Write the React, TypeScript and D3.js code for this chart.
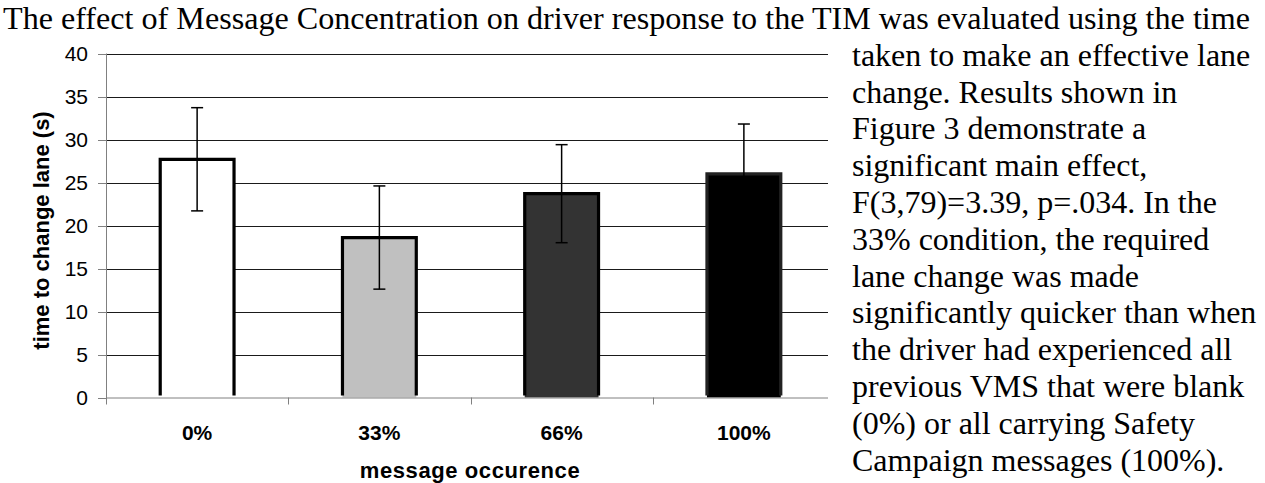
import { useEffect, useRef } from 'react'
import * as d3 from 'd3'

const W = 1265
const H = 483

// chart data
const categories = ['0%', '33%', '66%', '100%']
const means = [27.7, 18.6, 23.7, 26.0]
const errors = [6.0, 6.0, 5.7, 5.8]
const fills = ['#ffffff', '#c0c0c0', '#333333', '#000000']
const yTicks = [0, 5, 10, 15, 20, 25, 30, 35, 40]

// surrounding document text
const titleLine = 'The effect of Message Concentration on driver response to the TIM was evaluated using the time'
const paraLines = [
  'taken to make an effective lane',
  'change. Results shown in',
  'Figure 3 demonstrate a',
  'significant main effect,',
  'F(3,79)=3.39, p=.034. In the',
  '33% condition, the required',
  'lane change was made',
  'significantly quicker than when',
  'the driver had experienced all',
  'previous VMS that were blank',
  '(0%) or all carrying Safety',
  'Campaign messages (100%).',
]

const X0 = 106
const X1 = 835
const Y0 = 397.5
const Y1 = 53.5
const LINE_H = 36.8
const SERIF = '"Liberation Serif", "Times New Roman", serif'
const SANS = '"Liberation Sans", Arial, sans-serif'

export default function App() {
  const svgRef = useRef<SVGSVGElement>(null)

  useEffect(() => {
    if (!svgRef.current) return
    const svg = d3.select(svgRef.current)
    svg.selectAll('*').remove()

    const x = d3.scaleBand<string>().domain(categories).range([X0, X1]).padding(0)
    const y = d3.scaleLinear().domain([0, 40]).range([Y0, Y1])
    const barW = x.bandwidth() * 0.405

    // ── gridlines ─────────────────────────────────────────
    svg.append('g')
      .selectAll('line')
      .data(yTicks.filter((t) => t > 0))
      .join('line')
      .attr('x1', X0).attr('x2', X1)
      .attr('y1', (d) => Math.round(y(d)) + 0.5)
      .attr('y2', (d) => Math.round(y(d)) + 0.5)
      .attr('stroke', '#1a1a1a')
      .attr('stroke-width', 1)

    // ── y axis ────────────────────────────────────────────
    const yAxis = svg.append('g')
    yAxis.append('line')
      .attr('x1', X0 + 0.5).attr('x2', X0 + 0.5)
      .attr('y1', Y1).attr('y2', Y0 + 7)
      .attr('stroke', '#808080')
    yAxis.selectAll('line.tick')
      .data(yTicks)
      .join('line')
      .attr('class', 'tick')
      .attr('x1', X0 - 8).attr('x2', X0)
      .attr('y1', (d) => Math.round(y(d)) + 0.5)
      .attr('y2', (d) => Math.round(y(d)) + 0.5)
      .attr('stroke', '#808080')
    yAxis.selectAll('text')
      .data(yTicks)
      .join('text')
      .attr('x', 88)
      .attr('y', (d) => y(d))
      .attr('dy', '0.36em')
      .attr('text-anchor', 'end')
      .attr('font-family', SANS)
      .attr('font-size', 21)
      .attr('fill', '#000')
      .text((d) => d)

    svg.append('text')
      .attr('transform', `translate(49, ${(Y0 + Y1) / 2 + 5}) rotate(-90)`)
      .attr('text-anchor', 'middle')
      .attr('font-family', SANS)
      .attr('font-weight', 'bold')
      .attr('font-size', 22)
      .text('time to change lane (s)')

    // ── bars ──────────────────────────────────────────────
    const cx = (c: string) => (x(c) as number) + x.bandwidth() / 2
    svg.append('g')
      .selectAll('rect')
      .data(categories)
      .join('rect')
      .attr('x', (c) => cx(c) - barW / 2)
      .attr('width', barW)
      .attr('y', (c, i) => y(means[i]))
      .attr('height', (c, i) => Y0 - y(means[i]))
      .attr('fill', (c, i) => fills[i])
    svg.append('g')
      .selectAll('path')
      .data(categories)
      .join('path')
      .attr('d', (c, i) => {
        const l = cx(c) - barW / 2
        const r = cx(c) + barW / 2
        const t = y(means[i])
        return `M${l},${Y0 - 2}V${t}H${r}V${Y0 - 2}`
      })
      .attr('fill', 'none')
      .attr('stroke', (c, i) => (i === 3 ? '#222' : '#000'))
      .attr('stroke-width', 3.2)

    // ── x axis ────────────────────────────────────────────
    svg.append('line')
      .attr('x1', X0).attr('x2', X1)
      .attr('y1', Y0 + 0.5).attr('y2', Y0 + 0.5)
      .attr('stroke', '#808080')
    svg.append('g')
      .selectAll('line')
      .data(categories.slice(1))
      .join('line')
      .attr('x1', (c) => Math.round(x(c) as number) + 0.5)
      .attr('x2', (c) => Math.round(x(c) as number) + 0.5)
      .attr('y1', Y0).attr('y2', Y0 + 7)
      .attr('stroke', '#808080')
    svg.append('g')
      .selectAll('text')
      .data(categories)
      .join('text')
      .attr('x', (c) => cx(c))
      .attr('y', 440)
      .attr('text-anchor', 'middle')
      .attr('font-family', SANS)
      .attr('font-weight', 'bold')
      .attr('font-size', 21)
      .text((c) => c)
    svg.append('text')
      .attr('x', 470)
      .attr('y', 478)
      .attr('text-anchor', 'middle')
      .attr('font-family', SANS)
      .attr('font-weight', 'bold')
      .attr('font-size', 22)
      .attr('letter-spacing', 0.6)
      .text('message occurence')

    // ── error bars ────────────────────────────────────────
    const eb = svg.append('g').attr('stroke', '#000').attr('stroke-width', 1.5)
    categories.forEach((c, i) => {
      const px = cx(c)
      const hi = y(means[i] + errors[i])
      const lo = y(means[i] - errors[i])
      eb.append('line').attr('x1', px).attr('x2', px).attr('y1', hi).attr('y2', lo)
        .attr('stroke', i === 3 ? '#000' : '#000')
      eb.append('line').attr('x1', px - 6).attr('x2', px + 6).attr('y1', hi).attr('y2', hi)
      eb.append('line').attr('x1', px - 6).attr('x2', px + 6).attr('y1', lo).attr('y2', lo)
    })

    // ── document text ─────────────────────────────────────
    svg.append('rect')
      .attr('x', 828).attr('y', 36).attr('width', W - 828).attr('height', H - 36)
      .attr('fill', '#fff')
    svg.append('text')
      .attr('x', 3)
      .attr('y', 29)
      .attr('font-family', SERIF)
      .attr('font-size', 32)
      .attr('textLength', 1247)
      .attr('lengthAdjust', 'spacingAndGlyphs')
      .text(titleLine)
    svg.append('g')
      .selectAll('text')
      .data(paraLines)
      .join('text')
      .attr('x', 852)
      .attr('y', (d, i) => 29 + LINE_H * (i + 1))
      .attr('font-family', SERIF)
      .attr('font-size', 32)
      .text((d) => d)
  }, [])

  return (
    <svg
      ref={svgRef}
      width={W}
      height={H}
      style={{ position: 'absolute', left: 0, top: 0, background: '#fff' }}
    />
  )
}
